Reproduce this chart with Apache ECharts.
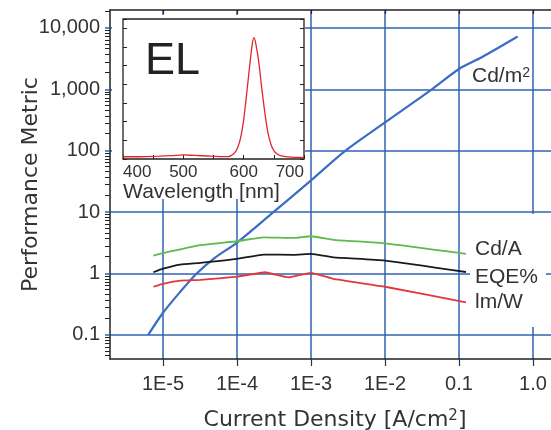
<!DOCTYPE html>
<html><head><meta charset="utf-8">
<script src="https://cdn.jsdelivr.net/npm/echarts@6/dist/echarts.min.js"></script>
<style>html,body{margin:0;padding:0;background:#fff}#c{width:551px;height:430px}</style>
</head><body><div id="c"></div>
<script>
// ---- tick labels ----
const xTickValues = [1e-5, 1e-4, 1e-3, 1e-2, 0.1, 1];
const xTickLabels = ['1E-5', '1E-4', '1E-3', '1E-2', '0.1', '1.0'];
const yTickValues = [0.1, 1, 10, 100, 1000, 10000];
const yTickLabels = ['0.1', '1', '10', '100', '1,000', '10,000'];
const insetTickValues = [400, 500, 600, 700];
const insetTickLabels = ['400', '500', '600', '700'];

// ---- series: Cd/m2 (luminance) ----
const cdm2J = [6.3e-6, 1e-5, 1.7e-5, 2.85e-5, 5e-5, 1e-4, 3.1e-4, 1e-3, 2.9e-3, 1e-2, 4.3e-2, 0.1, 0.2, 0.62];
const cdm2V = [0.1, 0.23, 0.5, 1.0, 1.8, 3.2, 10, 33, 100, 290, 1000, 2150, 3300, 7250];
// ---- Cd/A ----
const cdaJ = [7.4e-6, 1e-5, 3.2e-5, 1e-4, 2.3e-4, 5.8e-4, 1e-3, 2e-3, 1e-2, 0.124];
const cdaV = [1.96, 2.15, 2.9, 3.36, 3.9, 3.8, 4.05, 3.55, 3.1, 2.09];
// ---- EQE% ----
const eqeJ = [7.4e-6, 1e-5, 1.7e-5, 3.2e-5, 1e-4, 2.3e-4, 5.8e-4, 1e-3, 2e-3, 1e-2, 0.124];
const eqeV = [1.05, 1.2, 1.4, 1.49, 1.73, 2.04, 2.02, 2.09, 1.84, 1.63, 1.06];
// ---- lm/W ----
const lmwJ = [7.4e-6, 1e-5, 1.7e-5, 3.2e-5, 1e-4, 2.4e-4, 4.9e-4, 1e-3, 2e-3, 1e-2, 0.124];
const lmwV = [0.61, 0.68, 0.77, 0.79, 0.89, 1.05, 0.87, 1.03, 0.82, 0.61, 0.34];

// ---- inset EL spectrum (arb. units) ----
const wavelength = [400, 420, 440, 460, 480, 500, 520, 540, 560, 575, 580, 585, 590, 595, 600, 605, 610, 614, 617, 620, 625, 630, 635, 640, 645, 650, 655, 660, 670, 680, 690, 700];
const elIntensity = [0.12, 0.12, 0.13, 0.15, 0.18, 0.22, 0.19, 0.16, 0.13, 0.13, 0.2, 0.33, 0.6, 1.15, 2.1, 3.5, 5.0, 6.1, 6.5, 6.2, 5.2, 3.8, 2.5, 1.45, 0.8, 0.45, 0.28, 0.2, 0.13, 0.1, 0.08, 0.07];

// ---- axis ranges (plot frame runs past the right edge of the picture) ----
const X_MIN = 1.92e-6, X_MAX = 4.45;
const Y_MIN = 0.0406, Y_MAX = 19630;

function pairs(xs, ys) { return xs.map((x, i) => [x, ys[i]]); }
function logLabel(values, labels, v) {
  for (let i = 0; i < values.length; i++) {
    if (Math.abs(Math.log10(v) - Math.log10(values[i])) < 1e-6) return labels[i];
  }
  return '';
}
function linLabel(values, labels, v) {
  for (let i = 0; i < values.length; i++) if (Math.abs(v - values[i]) < 1e-6) return labels[i];
  return '';
}

const FONT = '"Liberation Sans", Arial, sans-serif';
const TITLE_FONT = '"DejaVu Sans", sans-serif';
const GRID_BLUE = '#2f62b4';
const TXT = '#333';

const chart = echarts.init(document.getElementById('c'), null, {renderer: 'canvas'});
chart.setOption({
  animation: false,
  backgroundColor: '#fff',
  grid: [
    {left: 110, top: 10, width: 471, bottom: 71, show: false, outerBoundsMode: 'none', containLabel: false},
    {left: 123, top: 19, width: 181, height: 140, show: true, backgroundColor: '#fff', borderColor: '#222', borderWidth: 1.3, z: 5, outerBoundsMode: 'none'}
  ],
  xAxis: [
    {
      type: 'log', gridIndex: 0, min: X_MIN, max: X_MAX, position: 'bottom',
      axisLine: {show: true, onZero: false, lineStyle: {color: '#222', width: 1.5}},
      axisTick: {show: true, customValues: xTickValues, length: 7, lineStyle: {color: '#333', width: 1.2}},
      minorTick: {show: false},
      axisLabel: {show: true, customValues: xTickValues, formatter: v => logLabel(xTickValues, xTickLabels, v),
        fontSize: 20, fontFamily: FONT, color: TXT, margin: 15},
      splitLine: {show: true, showMinLine: true, showMaxLine: true, lineStyle: {color: GRID_BLUE, width: 1.5}},
      name: 'Current Density [A/cm{s|2}]', nameLocation: 'middle', nameGap: 50, nameMoveOverlap: false,
      nameTextStyle: {fontSize: 22, fontFamily: TITLE_FONT, color: TXT, padding: [0, 21, 0, 0],
        rich: {s: {fontSize: 15, fontFamily: TITLE_FONT, color: TXT, verticalAlign: 'top'}}}
    },
    {
      type: 'log', gridIndex: 0, min: X_MIN, max: X_MAX, position: 'top',
      axisLine: {show: true, onZero: false, lineStyle: {color: '#222', width: 1.5}},
      axisTick: {show: true, inside: true, customValues: xTickValues, length: 4, lineStyle: {color: '#222', width: 1.2}},
      axisLabel: {show: false}, splitLine: {show: false}
    },
    {
      type: 'value', gridIndex: 1, min: 400, max: 700, interval: 50, z: 6,
      axisLine: {show: false},
      axisTick: {show: true, inside: true, length: 4, lineStyle: {color: '#222', width: 1}},
      axisLabel: {show: true, customValues: insetTickValues, formatter: v => linLabel(insetTickValues, insetTickLabels, v),
        fontSize: 17, fontFamily: FONT, color: TXT, margin: 5, alignMinLabel: 'left', alignMaxLabel: 'right'},
      splitLine: {show: false},
      name: 'Wavelength [nm]', nameLocation: 'middle', nameGap: 23, nameMoveOverlap: false,
      nameTextStyle: {fontSize: 21, fontFamily: FONT, color: TXT, padding: [0, 24, 0, 0]}
    }
  ],
  yAxis: [
    {
      type: 'log', gridIndex: 0, min: Y_MIN, max: Y_MAX,
      axisLine: {show: true, onZero: false, lineStyle: {color: '#222', width: 1.5}},
      axisTick: {show: true, customValues: yTickValues, length: 5, lineStyle: {color: GRID_BLUE, width: 1.5}},
      minorTick: {show: true, splitNumber: 10, length: 5, lineStyle: {color: '#222', width: 1}},
      axisLabel: {show: true, customValues: yTickValues, formatter: v => logLabel(yTickValues, yTickLabels, v),
        fontSize: 20, fontFamily: FONT, color: TXT, margin: 10},
      splitLine: {show: true, showMinLine: true, showMaxLine: true, lineStyle: {color: GRID_BLUE, width: 1.5}},
      name: 'Performance Metric', nameLocation: 'middle', nameRotate: 90, nameGap: 68, nameMoveOverlap: false,
      nameTextStyle: {fontSize: 22, fontFamily: TITLE_FONT, color: TXT}
    },
    {
      type: 'value', gridIndex: 1, min: 0, max: 7.5, interval: 1, z: 6,
      axisLine: {show: false},
      axisTick: {show: true, inside: true, length: 4, lineStyle: {color: '#222', width: 1}},
      axisLabel: {show: false}, splitLine: {show: false}
    },
    {
      type: 'value', gridIndex: 1, min: 0, max: 7.5, interval: 1, position: 'right', z: 6,
      axisLine: {show: false},
      axisTick: {show: true, inside: true, length: 4, lineStyle: {color: '#222', width: 1}},
      axisLabel: {show: false}, splitLine: {show: false}
    }
  ],
  graphic: [
    {type: 'rect', z: 4, shape: {x: 112, y: 15, width: 193, height: 184}, style: {fill: '#fff'}},
    {type: 'rect', z: 4, shape: {x: 470, y: 214, width: 76, height: 113}, style: {fill: '#fff'}},
    {type: 'text', z: 8, x: 145, y: 39, style: {text: 'EL', fontSize: 45, fontFamily: FONT, fill: '#222', verticalAlign: 'top'}},
    {type: 'text', z: 8, x: 472, y: 66, style: {text: 'Cd/m{s|2}', fontSize: 21, fontFamily: FONT, fill: TXT, verticalAlign: 'top',
      rich: {s: {fontSize: 14, fontFamily: FONT, fill: TXT, verticalAlign: 'top'}}}},
    {type: 'text', z: 8, x: 475, y: 239, style: {text: 'Cd/A', fontSize: 21, fontFamily: FONT, fill: TXT, verticalAlign: 'top'}},
    {type: 'text', z: 8, x: 475, y: 267, style: {text: 'EQE%', fontSize: 21, fontFamily: FONT, fill: TXT, verticalAlign: 'top'}},
    {type: 'text', z: 8, x: 475, y: 292, style: {text: 'lm/W', fontSize: 21, fontFamily: FONT, fill: TXT, verticalAlign: 'top'}}
  ],
  series: [
    {type: 'line', name: 'Cd/m2', xAxisIndex: 0, yAxisIndex: 0, data: pairs(cdm2J, cdm2V), smooth: 0.3,
      showSymbol: false, lineStyle: {color: '#3b6cc4', width: 2.2}, z: 5},
    {type: 'line', name: 'Cd/A', xAxisIndex: 0, yAxisIndex: 0, data: pairs(cdaJ, cdaV), smooth: 0.15,
      showSymbol: false, lineStyle: {color: '#5cbb4a', width: 1.8}, z: 5},
    {type: 'line', name: 'EQE%', xAxisIndex: 0, yAxisIndex: 0, data: pairs(eqeJ, eqeV), smooth: 0.15,
      showSymbol: false, lineStyle: {color: '#1a1a1a', width: 1.8}, z: 5},
    {type: 'line', name: 'lm/W', xAxisIndex: 0, yAxisIndex: 0, data: pairs(lmwJ, lmwV), smooth: 0.1,
      showSymbol: false, lineStyle: {color: '#e2383a', width: 1.8}, z: 5},
    {type: 'line', name: 'EL', xAxisIndex: 2, yAxisIndex: 1, data: pairs(wavelength, elIntensity), smooth: 0.3,
      showSymbol: false, lineStyle: {color: '#e0282c', width: 1.3}, z: 7}
  ]
});
</script>
</body></html>
